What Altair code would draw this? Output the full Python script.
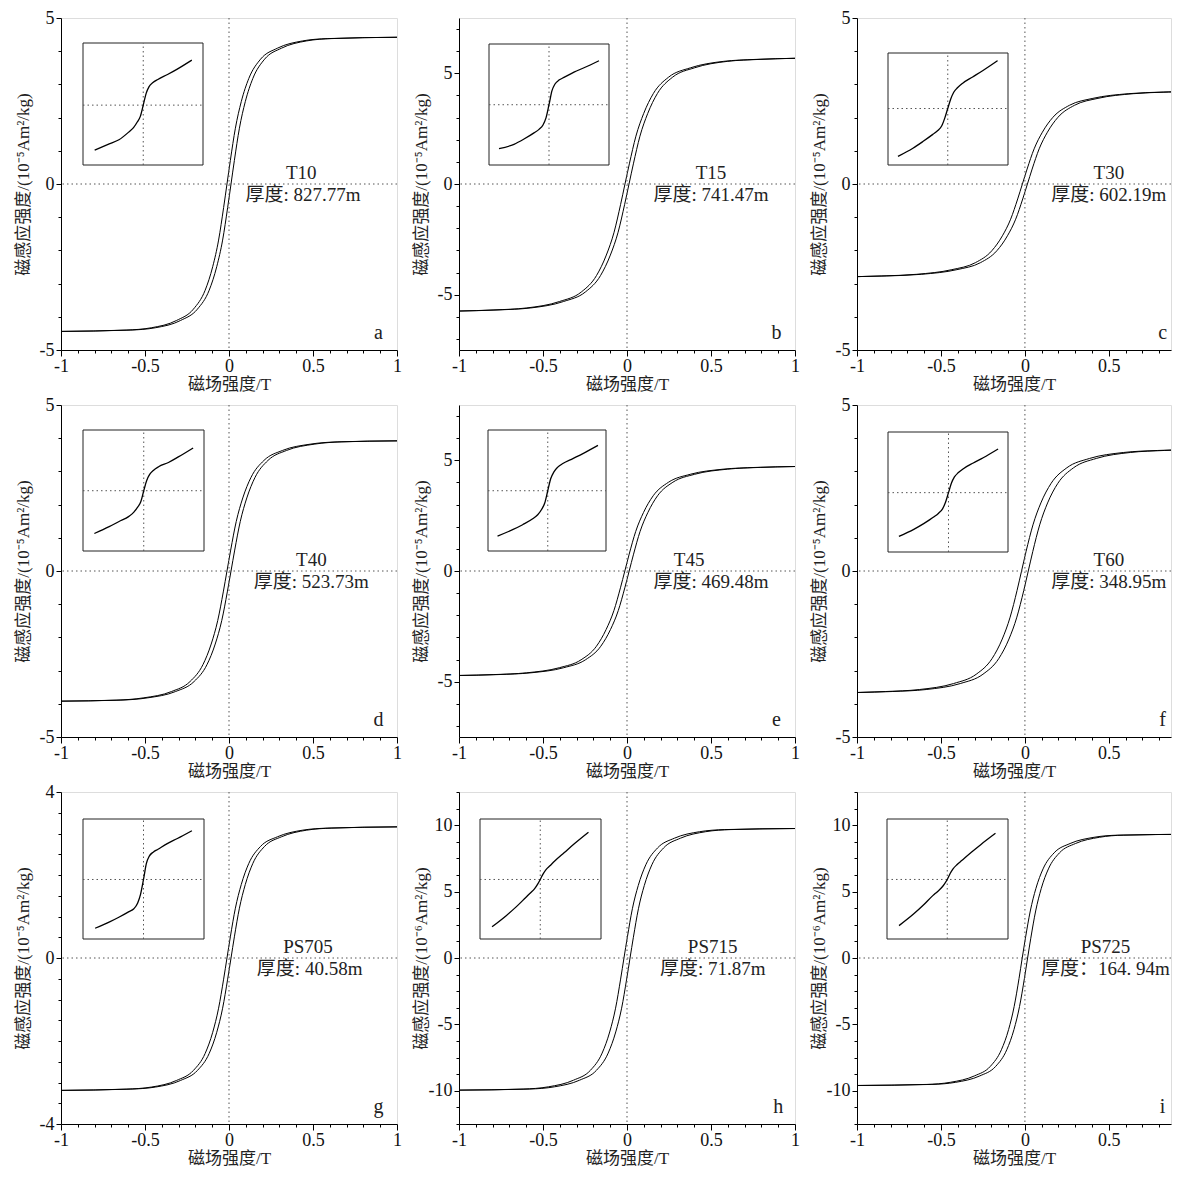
import altair as alt
import pandas as pd

FONT = "Liberation Serif, Noto Sans CJK SC"

# ---------------- data ----------------
PANEL_IDS = ["a", "b", "c", "d", "e", "f", "g", "h", "i"]
SAMPLES = ["T10", "T15", "T30", "T40", "T45", "T60", "PS705", "PS715", "PS725"]
THICKNESS = ["厚度: 827.77m", "厚度: 741.47m", "厚度: 602.19m",
             "厚度: 523.73m", "厚度: 469.48m", "厚度: 348.95m",
             "厚度: 40.58m", "厚度: 71.87m", "厚度：164. 94m"]

# magnetisation values of both branches (same M list, H differs per branch)
M_A = [-4.44, -4.40, -4.33, -4.11, -3.77, -3.20, -2.49, -1.69, -0.71, 0, 0.71, 1.68, 2.48, 3.18, 3.76, 4.09, 4.31, 4.38, 4.42]
HD_A = [-1, -0.612, -0.462, -0.312, -0.212, -0.142, -0.097, -0.062, -0.032, -0.012, 0.008, 0.038, 0.073, 0.118, 0.188, 0.288, 0.438, 0.588, 1]
HA_A = [-1, -0.588, -0.438, -0.288, -0.188, -0.118, -0.073, -0.038, -0.008, 0.012, 0.032, 0.062, 0.097, 0.142, 0.212, 0.312, 0.462, 0.612, 1]

M_B = [-5.74, -5.69, -5.60, -5.31, -4.88, -4.13, -3.21, -2.18, -0.92, 0, 0.91, 2.16, 3.18, 4.09, 4.83, 5.25, 5.54, 5.63, 5.68]
HD_B = [-1, -0.792, -0.597, -0.402, -0.272, -0.181, -0.123, -0.077, -0.038, -0.012, 0.014, 0.053, 0.099, 0.157, 0.248, 0.378, 0.573, 0.768, 1]
HA_B = [-1, -0.768, -0.573, -0.378, -0.248, -0.157, -0.099, -0.053, -0.014, 0.012, 0.038, 0.077, 0.123, 0.181, 0.272, 0.402, 0.597, 0.792, 1]

M_C = [-2.79, -2.77, -2.72, -2.58, -2.37, -2.01, -1.56, -1.06, -0.45, 0, 0.45, 1.06, 1.56, 2.01, 2.37, 2.58, 2.72, 2.77, 2.79]
HD_C = [-1, -0.855, -0.645, -0.435, -0.295, -0.197, -0.134, -0.085, -0.043, -0.015, 0.013, 0.055, 0.104, 0.167, 0.265, 0.405, 0.615, 0.825, 1]
HA_C = [-1, -0.825, -0.615, -0.405, -0.265, -0.167, -0.104, -0.055, -0.013, 0.015, 0.043, 0.085, 0.134, 0.197, 0.295, 0.435, 0.645, 0.855, 1]

M_D = [-3.92, -3.89, -3.82, -3.63, -3.33, -2.82, -2.20, -1.49, -0.63, 0, 0.63, 1.49, 2.20, 2.82, 3.33, 3.63, 3.82, 3.89, 3.92]
HD_D = [-1, -0.672, -0.507, -0.342, -0.232, -0.155, -0.106, -0.067, -0.034, -0.012, 0.010, 0.043, 0.082, 0.131, 0.208, 0.318, 0.483, 0.648, 1]
HA_D = [-1, -0.648, -0.483, -0.318, -0.208, -0.131, -0.082, -0.043, -0.010, 0.012, 0.034, 0.067, 0.106, 0.155, 0.232, 0.342, 0.507, 0.672, 1]

M_E = [-4.72, -4.68, -4.60, -4.37, -4.01, -3.40, -2.64, -1.79, -0.76, 0, 0.76, 1.79, 2.64, 3.40, 4.01, 4.37, 4.60, 4.68, 4.72]
HD_E = [-1, -0.793, -0.598, -0.403, -0.273, -0.182, -0.124, -0.078, -0.039, -0.013, 0.013, 0.052, 0.098, 0.156, 0.247, 0.377, 0.572, 0.767, 1]
HA_E = [-1, -0.767, -0.572, -0.377, -0.247, -0.156, -0.098, -0.052, -0.013, 0.013, 0.039, 0.078, 0.124, 0.182, 0.273, 0.403, 0.598, 0.793, 1]

M_F = [-3.66, -3.63, -3.57, -3.39, -3.11, -2.64, -2.05, -1.39, -0.59, 0, 0.59, 1.39, 2.05, 2.64, 3.11, 3.39, 3.57, 3.63, 3.66]
HD_F = [-1, -0.83, -0.628, -0.425, -0.29, -0.196, -0.135, -0.088, -0.047, -0.02, 0.007, 0.048, 0.095, 0.156, 0.25, 0.385, 0.588, 0.79, 1]
HA_F = [-1, -0.79, -0.588, -0.385, -0.25, -0.156, -0.095, -0.048, -0.007, 0.02, 0.047, 0.088, 0.135, 0.196, 0.29, 0.425, 0.628, 0.83, 1]

M_G = [-3.19, -3.16, -3.11, -2.95, -2.71, -2.30, -1.79, -1.21, -0.51, 0, 0.51, 1.20, 1.77, 2.28, 2.69, 2.92, 3.08, 3.13, 3.16]
HD_G = [-1, -0.612, -0.462, -0.312, -0.212, -0.142, -0.097, -0.062, -0.032, -0.012, 0.008, 0.038, 0.073, 0.118, 0.188, 0.288, 0.438, 0.588, 1]
HA_G = [-1, -0.588, -0.438, -0.288, -0.188, -0.118, -0.073, -0.038, -0.008, 0.012, 0.032, 0.062, 0.097, 0.142, 0.212, 0.312, 0.462, 0.612, 1]

M_H = [-9.95, -9.87, -9.70, -9.20, -8.46, -7.16, -5.57, -3.78, -1.59, 0, 1.56, 3.71, 5.46, 7.02, 8.29, 9.02, 9.51, 9.67, 9.75]
HD_H = [-1, -0.618, -0.468, -0.318, -0.218, -0.148, -0.103, -0.068, -0.038, -0.018, 0.002, 0.032, 0.067, 0.112, 0.182, 0.282, 0.432, 0.582, 1]
HA_H = [-1, -0.582, -0.432, -0.282, -0.182, -0.112, -0.067, -0.032, -0.002, 0.018, 0.038, 0.068, 0.103, 0.148, 0.218, 0.318, 0.468, 0.618, 1]

M_I = [-9.60, -9.52, -9.36, -8.88, -8.16, -6.91, -5.38, -3.65, -1.54, 0, 1.49, 3.54, 5.22, 6.71, 7.92, 8.62, 9.09, 9.25, 9.32]
HD_I = [-1, -0.586, -0.444, -0.301, -0.206, -0.14, -0.097, -0.064, -0.035, -0.016, 0.003, 0.032, 0.065, 0.108, 0.174, 0.269, 0.412, 0.554, 1]
HA_I = [-1, -0.554, -0.412, -0.269, -0.174, -0.108, -0.065, -0.032, -0.003, 0.016, 0.035, 0.064, 0.097, 0.14, 0.206, 0.301, 0.444, 0.586, 1]

# insets: raw loops (normalised field / magnetisation)
INSET_H = [-1, -0.7, -0.5, -0.3, -0.2, -0.12, -0.06, 0, 0.06, 0.12, 0.2, 0.3, 0.5, 0.7, 1]
INSET_A = [-1, -0.86, -0.77, -0.6, -0.5, -0.37, -0.25, 0, 0.26, 0.41, 0.5, 0.57, 0.68, 0.8, 1]
INSET_B = [-1, -0.9, -0.78, -0.64, -0.56, -0.46, -0.3, 0, 0.32, 0.47, 0.56, 0.62, 0.74, 0.84, 1]
INSET_C = [-1, -0.83, -0.69, -0.54, -0.46, -0.36, -0.2, 0, 0.2, 0.34, 0.44, 0.53, 0.66, 0.79, 1]
INSET_D = [-1, -0.84, -0.72, -0.6, -0.5, -0.38, -0.26, 0, 0.24, 0.38, 0.48, 0.56, 0.66, 0.79, 1]
INSET_E = [-1, -0.86, -0.75, -0.62, -0.53, -0.41, -0.27, 0, 0.27, 0.41, 0.52, 0.6, 0.71, 0.82, 1]
INSET_F = [-1, -0.84, -0.71, -0.56, -0.47, -0.37, -0.22, 0, 0.22, 0.36, 0.46, 0.55, 0.68, 0.8, 1]
INSET_G = [-1, -0.87, -0.77, -0.66, -0.6, -0.48, -0.3, 0, 0.33, 0.48, 0.56, 0.62, 0.74, 0.84, 1]
INSET_HH = [-1, -0.76, -0.58, -0.38, -0.28, -0.2, -0.11, 0, 0.12, 0.21, 0.29, 0.39, 0.57, 0.75, 1]
INSET_I = [-1, -0.75, -0.56, -0.35, -0.26, -0.18, -0.1, 0, 0.13, 0.23, 0.32, 0.41, 0.59, 0.76, 1]

# inset axis limits (normalised units)
INSET_XLIM = [[-1.24, 1.23], [-1.2, 1.2], [-1.2, 1.21], [-1.23, 1.22], [-1.19, 1.16],
              [-1.22, 1.2], [-1.25, 1.25], [-1.25, 1.26], [-1.25, 1.26]]
INSET_YLIM = [[-1.33, 1.38], [-1.37, 1.38], [-1.18, 1.16], [-1.41, 1.42], [-1.33, 1.34],
              [-1.36, 1.39], [-1.22, 1.24], [-1.26, 1.28], [-1.29, 1.31]]

# tick values: labelled (major) and unlabelled (minor)
X_MAJOR = [-1.0, -0.5, 0.0, 0.5, 1.0]
X_MAJOR_CUT = [-1.0, -0.5, 0.0, 0.5]
X_MINOR = [-0.9, -0.8, -0.7, -0.6, -0.4, -0.3, -0.2, -0.1,
           0.1, 0.2, 0.3, 0.4, 0.6, 0.7, 0.8, 0.9]
X_MINOR_CUT = [-0.9, -0.8, -0.7, -0.6, -0.4, -0.3, -0.2, -0.1,
               0.1, 0.2, 0.3, 0.4, 0.6, 0.7, 0.8]
Y_MAJOR_5 = [-5, 0, 5]
Y_MINOR_5 = [-4, -3, -2, -1, 1, 2, 3, 4]
Y_MINOR_7 = [-7, -6, -4, -3, -2, -1, 1, 2, 3, 4, 6, 7]
Y_MAJOR_4 = [-4, 0, 4]
Y_MINOR_4 = [-3.5, -3, -2.5, -2, -1.5, -1, -0.5, 0.5, 1, 1.5, 2, 2.5, 3, 3.5]
Y_MAJOR_10 = [-10, -5, 0, 5, 10]
Y_MINOR_12 = [-12.5, -11.25, -8.75, -7.5, -6.25, -3.75, -2.5, -1.25,
              1.25, 2.5, 3.75, 6.25, 7.5, 8.75, 11.25, 12.5]

Y_TITLE_5 = "磁感应强度/(10⁻⁵Am²/kg)"
Y_TITLE_6 = "磁感应强度/(10⁻⁶Am²/kg)"
X_TITLE = "磁场强度/T"

# label positions (field value of text centre)
NAME_X = [0.43, 0.5, 0.5, 0.49, 0.37, 0.5, 0.47, 0.51, 0.48]
THICK_X = [0.44, 0.5, 0.5, 0.49, 0.5, 0.5, 0.48, 0.51, 0.48]
LETTER_X = [0.89, 0.89, 0.82, 0.89, 0.89, 0.82, 0.89, 0.9, 0.82]

# ---------------- layout (styles) ----------------
W = 336
H_PLOT = 332
XDOM_FULL = [-1, 1]
XDOM_CUT = [-1, 0.87]
W_CUT = 314

PANEL_CFG = [
    dict(M=M_A, HD=HD_A, HA=HA_A, ins=INSET_A, ydom=[-5, 5], ymaj=Y_MAJOR_5, ymin=Y_MINOR_5, ytitle=Y_TITLE_5),
    dict(M=M_B, HD=HD_B, HA=HA_B, ins=INSET_B, ydom=[-7.5, 7.5], ymaj=Y_MAJOR_5, ymin=Y_MINOR_7, ytitle=Y_TITLE_5),
    dict(M=M_C, HD=HD_C, HA=HA_C, ins=INSET_C, ydom=[-5, 5], ymaj=Y_MAJOR_5, ymin=Y_MINOR_5, ytitle=Y_TITLE_5),
    dict(M=M_D, HD=HD_D, HA=HA_D, ins=INSET_D, ydom=[-5, 5], ymaj=Y_MAJOR_5, ymin=Y_MINOR_5, ytitle=Y_TITLE_5),
    dict(M=M_E, HD=HD_E, HA=HA_E, ins=INSET_E, ydom=[-7.5, 7.5], ymaj=Y_MAJOR_5, ymin=Y_MINOR_7, ytitle=Y_TITLE_5),
    dict(M=M_F, HD=HD_F, HA=HA_F, ins=INSET_F, ydom=[-5, 5], ymaj=Y_MAJOR_5, ymin=Y_MINOR_5, ytitle=Y_TITLE_5),
    dict(M=M_G, HD=HD_G, HA=HA_G, ins=INSET_G, ydom=[-4, 4], ymaj=Y_MAJOR_4, ymin=Y_MINOR_4, ytitle=Y_TITLE_5),
    dict(M=M_H, HD=HD_H, HA=HA_H, ins=INSET_HH, ydom=[-12.5, 12.5], ymaj=Y_MAJOR_10, ymin=Y_MINOR_12, ytitle=Y_TITLE_6),
    dict(M=M_I, HD=HD_I, HA=HA_I, ins=INSET_I, ydom=[-12.5, 12.5], ymaj=Y_MAJOR_10, ymin=Y_MINOR_12, ytitle=Y_TITLE_6),
]

# inset placement in pixels inside each plot area: [left, right], [bottom, top]
INSET_PX_X = [[22, 142], [30, 150], [31, 151], [22, 143], [29, 147], [31, 151], [22, 143], [21, 142], [30, 151]]
INSET_PX_Y = [[147, 25], [147, 26], [147, 35], [146, 25], [146, 25], [147, 27], [147, 27], [147, 27], [147, 27]]

LABEL_EXPR = "datum.value < 0 ? '-' + format(-datum.value, '') : format(datum.value, '')"
DOT = dict(color="#555", strokeDash=[1.5, 3], strokeWidth=1)


def make_panel(k):
    cfg = PANEL_CFG[k]
    col = k % 3
    xdom = XDOM_CUT if col == 2 else XDOM_FULL
    xmaj = X_MAJOR_CUT if col == 2 else X_MAJOR
    xmin = X_MINOR_CUT if col == 2 else X_MINOR
    width = W_CUT if col == 2 else W

    rows = []
    for branch, hs in (("desc", cfg["HD"]), ("asc", cfg["HA"])):
        for j, (h, m) in enumerate(zip(hs, cfg["M"])):
            rows.append({"H": h, "M": m, "branch": branch, "idx": j})
    df = pd.DataFrame(rows)

    x_axis = alt.Axis(values=xmaj, labelExpr=LABEL_EXPR, labelFlush=False, labelOverlap=False,
                      tickSize=6, tickColor="black", domainColor="black", grid=False,
                      labelFont=FONT, labelFontSize=18, labelColor="#111", labelPadding=1,
                      title=X_TITLE, titleFont=FONT, titleFontSize=17, titleFontWeight="normal",
                      titleColor="#222", titlePadding=1, orient="bottom")
    y_axis = alt.Axis(values=cfg["ymaj"], labelExpr=LABEL_EXPR, labelFlush=False, labelOverlap=False,
                      tickSize=5, tickColor="black", domainColor="black", grid=False,
                      labelFont=FONT, labelFontSize=18, labelColor="#111", labelPadding=2,
                      title=cfg["ytitle"], titleFont=FONT, titleFontSize=17,
                      titleFontWeight="normal", titleColor="#222",
                      titleX=-38, titleY=H_PLOT / 2, titleBaseline="middle", titleAngle=270,
                      orient="left")
    x_minor = alt.Axis(values=xmin, labels=False, tickSize=3, tickColor="black",
                       domain=False, grid=False, title=None, orient="bottom")
    y_minor = alt.Axis(values=cfg["ymin"], labels=False, tickSize=3, tickColor="black",
                       domain=False, grid=False, title=None, orient="left")

    xs = alt.Scale(domain=xdom, nice=False, zero=False)
    ys = alt.Scale(domain=cfg["ydom"], nice=False, zero=False)

    lines = alt.Chart(df).mark_line(color="black", strokeWidth=1, interpolate="monotone", clip=True).encode(
        x=alt.X("H:Q", scale=xs, axis=x_axis),
        y=alt.Y("M:Q", scale=ys, axis=y_axis),
        detail="branch:N",
        order="idx:Q",
    )
    vzero = alt.Chart(pd.DataFrame({"H": [0]})).mark_rule(**DOT).encode(
        x=alt.X("H:Q", scale=xs, axis=x_minor))
    hzero = alt.Chart(pd.DataFrame({"M": [0]})).mark_rule(**DOT).encode(
        y=alt.Y("M:Q", scale=ys, axis=y_minor))

    def txt(hx, my, t, baseline, dy, size):
        return alt.Chart(pd.DataFrame({"H": [hx], "M": [my], "t": [t]})).mark_text(
            font=FONT, fontSize=size, color="#222", baseline=baseline, dy=dy, clip=True).encode(
            x=alt.X("H:Q", scale=xs, axis=None), y=alt.Y("M:Q", scale=ys, axis=None), text="t:N")

    name = txt(NAME_X[k], 0, SAMPLES[k], "alphabetic", -5, 19)
    thick = txt(THICK_X[k], 0, THICKNESS[k], "top", 2, 19)
    letter = txt(LETTER_X[k], cfg["ydom"][0], PANEL_IDS[k], "alphabetic", -11, 20)

    main = alt.layer(lines, vzero, hzero, name, thick, letter).resolve_axis(
        x="independent", y="independent")

    # inset
    ixl = INSET_XLIM[k]
    iyl = INSET_YLIM[k]
    ixs = alt.Scale(domain=ixl, range=INSET_PX_X[k], nice=False, zero=False)
    iys = alt.Scale(domain=iyl, range=INSET_PX_Y[k], nice=False, zero=False)
    box = alt.Chart(pd.DataFrame({"a": [ixl[0]], "b": [ixl[1]], "c": [iyl[0]], "d": [iyl[1]]})).mark_rect(
        fill="white", stroke="#222", strokeWidth=1).encode(
        x=alt.X("a:Q", scale=ixs, axis=None), x2="b:Q",
        y=alt.Y("c:Q", scale=iys, axis=None), y2="d:Q")
    iv = alt.Chart(pd.DataFrame({"a": [0], "c": [iyl[0]], "d": [iyl[1]]})).mark_rule(**DOT).encode(
        x=alt.X("a:Q", scale=ixs, axis=None), y=alt.Y("c:Q", scale=iys, axis=None), y2="d:Q")
    ih = alt.Chart(pd.DataFrame({"a": [ixl[0]], "b": [ixl[1]], "c": [0]})).mark_rule(**DOT).encode(
        x=alt.X("a:Q", scale=ixs, axis=None), x2="b:Q", y=alt.Y("c:Q", scale=iys, axis=None))
    icurve = alt.Chart(pd.DataFrame({"a": INSET_H, "c": cfg["ins"]})).mark_line(
        color="black", strokeWidth=1.3, interpolate="monotone").encode(
        x=alt.X("a:Q", scale=ixs, axis=None), y=alt.Y("c:Q", scale=iys, axis=None))
    inset = alt.layer(box, iv, ih, icurve)

    return alt.layer(main, inset).resolve_scale(x="independent", y="independent").properties(
        width=width, height=H_PLOT)


panels = [make_panel(k) for k in range(9)]

chart = alt.concat(*panels, columns=3, spacing={"row": 55, "column": 62}, bounds="flush").properties(
    padding={"left": 5, "top": 0, "right": 0, "bottom": 0}
).configure_view(stroke="black", strokeWidth=1).configure(background="white")

chart.save("out.html", embed_options={"renderer": "svg", "actions": False})
